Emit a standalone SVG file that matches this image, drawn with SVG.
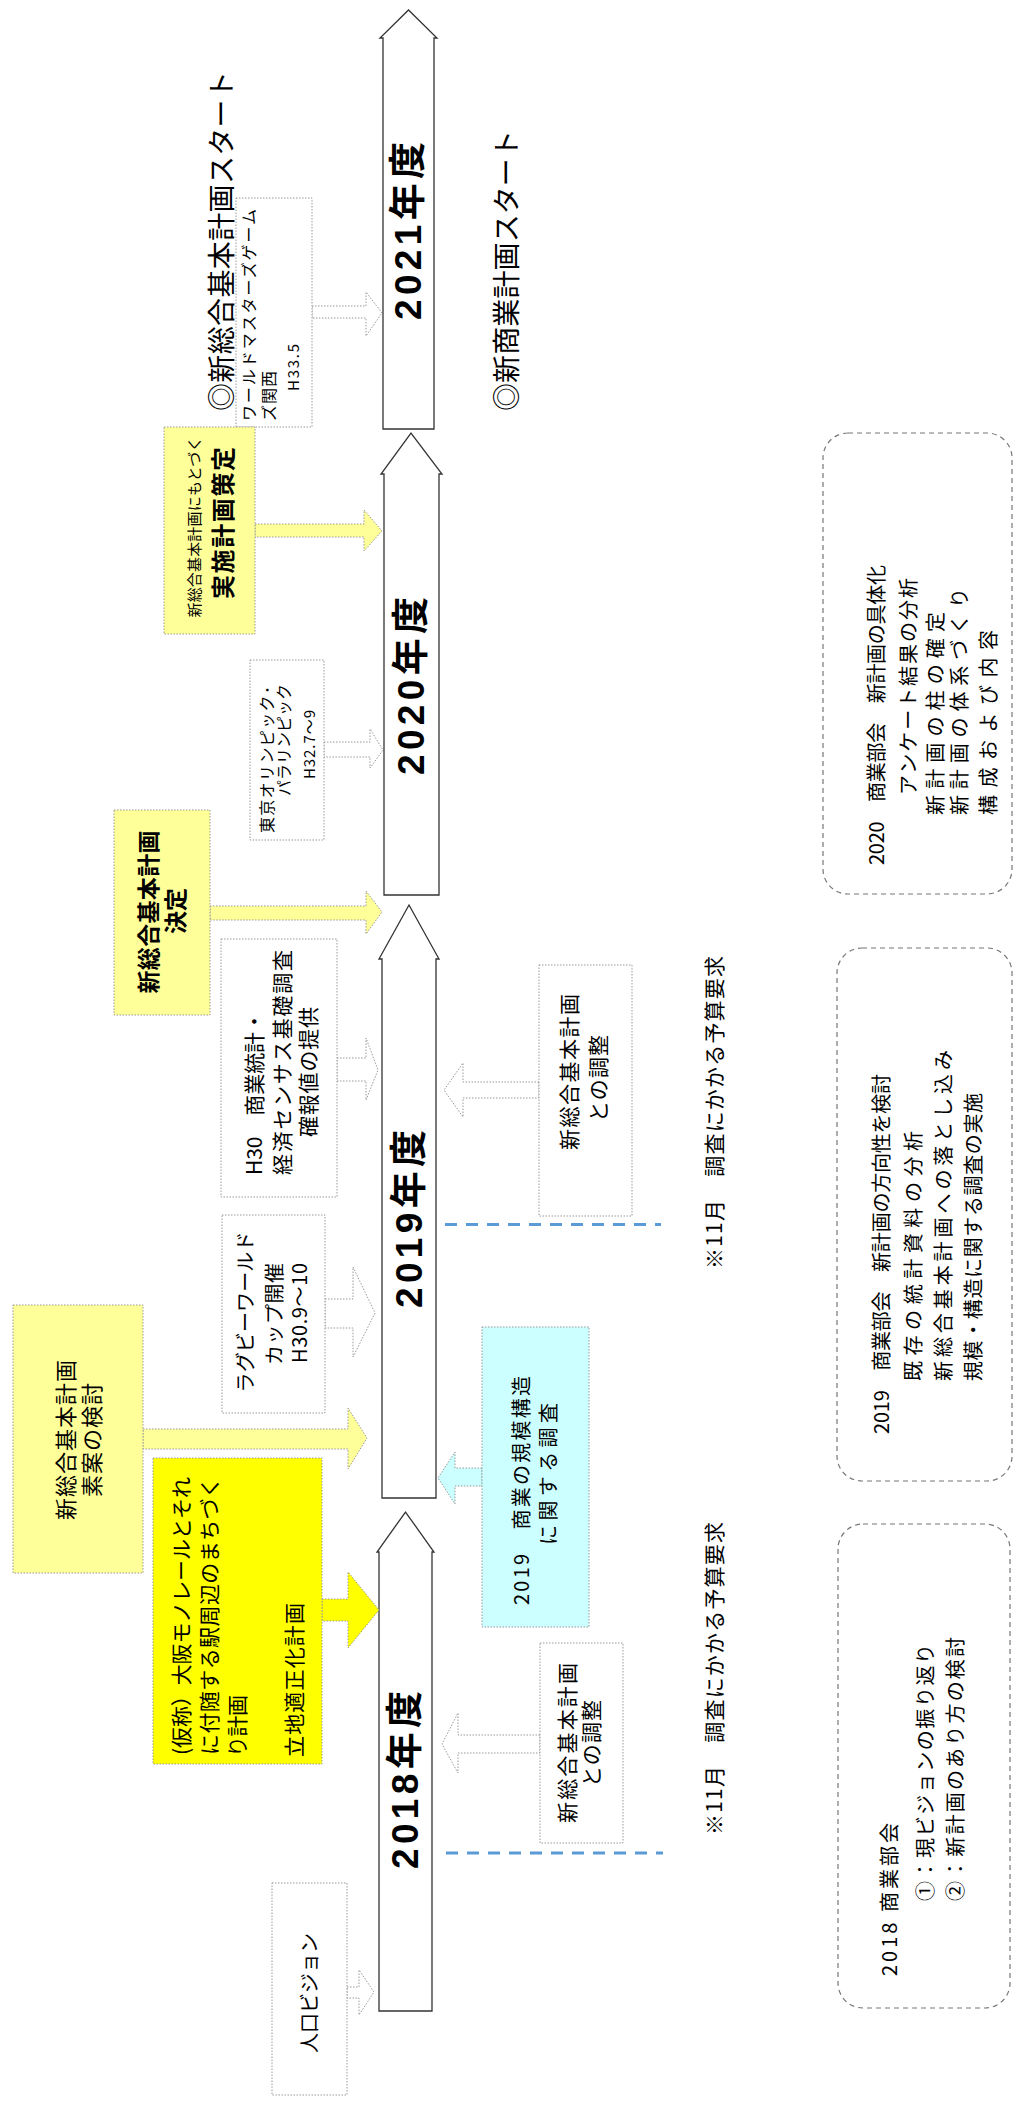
<svg xmlns="http://www.w3.org/2000/svg" width="1014" height="2103" viewBox="0 0 1014 2103">
<style>
text{font-family:"Noto Sans CJK JP","Noto Sans",sans-serif;fill:#000;dominant-baseline:central}
.yrt{font-family:"Liberation Sans","Noto Sans CJK JP",sans-serif;font-weight:bold;font-size:37px}
.box{fill:#fff;stroke:#999;stroke-width:1;stroke-dasharray:1.5 1.5}
.py{fill:#FFFF99}
.by{fill:#FFFF00}
.cy{fill:#CCFFFF}
.yr{fill:#fff;stroke:#333;stroke-width:1.3}
.rb{fill:#fff;stroke:#777;stroke-width:1.2;stroke-dasharray:5 4}
.bl{fill:none;stroke:#5B9BD5;stroke-width:3;stroke-dasharray:12 9}
.ar{stroke:#999;stroke-width:1;stroke-dasharray:1.5 1.5}
.wa{fill:#fff}
.rt{font-size:20px}
</style>
<rect width="1014" height="2103" fill="#fff"/>

<g id="year-2021">
<path class="yr" d="M383,429 V38 H380 L408.5,10 L437,38 H434 V429 Z"/>
<text class="yrt" transform="rotate(-90)" x="-231" y="408.5" text-anchor="middle" textLength="178">2021年度</text>
</g>
<g id="year-2020">
<path class="yr" d="M384,895 V474 H381 L411,433 L442,474 H439 V895 Z"/>
<text class="yrt" transform="rotate(-90)" x="-686" y="411.5" text-anchor="middle" textLength="178">2020年度</text>
</g>
<g id="year-2019">
<path class="yr" d="M382,1498 V959 H379 L409,905 L439,959 H436 V1498 Z"/>
<text class="yrt" transform="rotate(-90)" x="-1219" y="409" text-anchor="middle" textLength="178">2019年度</text>
</g>
<g id="year-2018">
<path class="yr" d="M379,2011 V1552 H377 L405.5,1512 L434,1552 H432 V2011 Z"/>
<text class="yrt" transform="rotate(-90)" x="-1780" y="405.5" text-anchor="middle" textLength="178">2018年度</text>
</g>

<g id="connectors">
<path class="ar wa" d="M347,1987 H359 V1970 L374,1992 L359,2015 V1998 H347 Z"/>
<path class="ar by" d="M322,1599 H348 V1572 L379,1610 L348,1648 V1621 H322 Z"/>
<path class="ar py" d="M143,1429 H348 V1408 L367,1438 L348,1469 V1449 H143 Z"/>
<path class="ar wa" d="M325,1299 H353 V1267 L375,1313 L353,1357 V1328 H325 Z"/>
<path class="ar wa" d="M337,1058 H366 V1038 L378,1070 L366,1100 V1081 H337 Z"/>
<path class="ar py" d="M210,906 H366 V891 L382,912 L366,934 V920 H210 Z"/>
<path class="ar wa" d="M324,742 H370 V729 L383,750 L370,768 V757 H324 Z"/>
<path class="ar py" d="M255,524 H364 V510 L382,531 L364,551 V537 H255 Z"/>
<path class="ar wa" d="M312,306 H366 V292 L382,313 L366,336 V318 H312 Z"/>
<path class="ar wa" d="M540,1735 H458 V1713 L442,1744 L458,1773 V1753 H540 Z"/>
<path class="ar cy" d="M482,1468 H455 V1452 L438,1478 L455,1504 V1486 H482 Z"/>
<path class="ar wa" d="M539,1082 H463 V1063 L444,1090 L463,1117 V1098 H539 Z"/>
<path class="bl" d="M445,1224.5 H661"/>
<path class="bl" d="M446,1853 H663"/>
</g>

<g id="start-sogo">
<text transform="rotate(-90)" x="-411" y="220" font-size="28" textLength="340">◎新総合基本計画スタート</text>
</g>
<g id="start-shogyo">
<text transform="rotate(-90)" x="-411" y="505" font-size="28" textLength="281">◎新商業計画スタート</text>
</g>

<g id="world-masters">
<rect class="box" x="236" y="198" width="76" height="229"/>
<text transform="rotate(-90)" x="-421" y="248" font-size="16" textLength="212">ワールドマスターズゲーム</text>
<text transform="rotate(-90)" x="-421" y="268" font-size="16" textLength="50">ズ関西</text>
<text transform="rotate(-90)" x="-391" y="292" font-size="15" textLength="47">H33.5</text>
</g>

<g id="jisshi">
<rect class="box py" x="164" y="427" width="91" height="207"/>
<text transform="rotate(-90)" x="-527" y="193" font-size="15" text-anchor="middle" textLength="181">新総合基本計画にもとづく</text>
<text transform="rotate(-90)" x="-523" y="221" font-size="24" font-weight="bold" text-anchor="middle" textLength="152">実施計画策定</text>
</g>

<g id="tokyo">
<rect class="box" x="250" y="660" width="74" height="180"/>
<text transform="rotate(-90)" x="-833" y="266" font-size="16" textLength="147">東京オリンピック･</text>
<text transform="rotate(-90)" x="-796" y="283" font-size="16" textLength="112">パラリンピック</text>
<text transform="rotate(-90)" x="-779" y="308" font-size="15" textLength="69">H32.7～9</text>
</g>

<g id="kettei">
<rect class="box py" x="114" y="810" width="96" height="205"/>
<text transform="rotate(-90)" x="-912" y="147" font-size="23" font-weight="bold" text-anchor="middle" textLength="163">新総合基本計画</text>
<text transform="rotate(-90)" x="-911" y="174" font-size="23" font-weight="bold" text-anchor="middle" textLength="46">決定</text>
</g>

<g id="h30">
<rect class="box" x="221" y="939" width="116" height="258"/>
<text transform="rotate(-90)" x="-1175" y="253" font-size="21" textLength="164">H30　商業統計・</text>
<text transform="rotate(-90)" x="-1175" y="281" font-size="21" textLength="225">経済センサス基礎調査</text>
<text transform="rotate(-90)" x="-1137" y="307" font-size="21" textLength="130">確報値の提供</text>
</g>

<g id="chosei-2019">
<rect class="box" x="539" y="965" width="93" height="251"/>
<text transform="rotate(-90)" x="-1150" y="568" font-size="21" textLength="156">新総合基本計画</text>
<text transform="rotate(-90)" x="-1122" y="597" font-size="21" textLength="87">との調整</text>
</g>

<g id="rugby">
<rect class="box" x="222" y="1215" width="103" height="198"/>
<text transform="rotate(-90)" x="-1312" y="244" font-size="20" text-anchor="middle" textLength="161">ラグビーワールド</text>
<text transform="rotate(-90)" x="-1314" y="273" font-size="20" text-anchor="middle" textLength="102">カップ開催</text>
<text transform="rotate(-90)" x="-1313" y="298" font-size="20" text-anchor="middle" textLength="100">H30.9～10</text>
</g>

<g id="soan">
<rect class="box py" x="13" y="1305" width="130" height="268"/>
<text transform="rotate(-90)" x="-1440" y="64" font-size="22" text-anchor="middle" textLength="160">新総合基本計画</text>
<text transform="rotate(-90)" x="-1440" y="90" font-size="22" text-anchor="middle" textLength="114">素案の検討</text>
</g>

<g id="chosa-2019">
<rect class="box cy" x="482" y="1327" width="107" height="300"/>
<text transform="rotate(-90)" x="-1605" y="520" font-size="20" textLength="229">2019　商業の規模構造</text>
<text transform="rotate(-90)" x="-1545" y="547" font-size="20" textLength="142">に関する調査</text>
</g>

<g id="monorail">
<rect class="box by" x="153" y="1458" width="169" height="306"/>
<text transform="rotate(-90)" x="-1755" y="180" font-size="21" textLength="278">(仮称）大阪モノレールとそれ</text>
<text transform="rotate(-90)" x="-1755" y="208" font-size="21" textLength="278">に付随する駅周辺のまちづく</text>
<text transform="rotate(-90)" x="-1757" y="236" font-size="21" textLength="62">り計画</text>
<text transform="rotate(-90)" x="-1757" y="293" font-size="21" textLength="154">立地適正化計画</text>
</g>

<g id="chosei-2018">
<rect class="box" x="540" y="1643" width="83" height="200"/>
<text transform="rotate(-90)" x="-1823" y="566" font-size="21" textLength="160">新総合基本計画</text>
<text transform="rotate(-90)" x="-1787" y="590" font-size="21" textLength="87">との調整</text>
</g>

<g id="jinko">
<rect class="box" x="272" y="1883" width="75" height="212"/>
<text transform="rotate(-90)" x="-1993" y="308" font-size="20" text-anchor="middle" textLength="120">人口ビジョン</text>
</g>

<g id="note-upper">
<text transform="rotate(-90)" x="-1269" y="713" font-size="21" textLength="313">※11月　調査にかかる予算要求</text>
</g>
<g id="note-lower">
<text transform="rotate(-90)" x="-1835" y="713" font-size="21" textLength="313">※11月　調査にかかる予算要求</text>
</g>

<g id="bukai-2020">
<rect class="rb" x="823" y="433" width="189" height="461" rx="25" ry="25"/>
<text class="rt" transform="rotate(-90)" x="-865" y="875" textLength="300">2020　商業部会　新計画の具体化</text>
<text class="rt" transform="rotate(-90)" x="-795" y="907" textLength="217">アンケート結果の分析</text>
<text class="rt" transform="rotate(-90)" x="-815" y="934" textLength="203">新計画の柱の確定</text>
<text class="rt" transform="rotate(-90)" x="-815" y="958" textLength="227">新計画の体系づくり</text>
<text class="rt" transform="rotate(-90)" x="-815" y="987" textLength="185">構成および内容</text>
</g>

<g id="bukai-2019">
<rect class="rb" x="837" y="948" width="175" height="533" rx="25" ry="25"/>
<text class="rt" transform="rotate(-90)" x="-1434" y="880" textLength="360">2019　商業部会　新計画の方向性を検討</text>
<text class="rt" transform="rotate(-90)" x="-1381" y="912" textLength="250">既存の統計資料の分析</text>
<text class="rt" transform="rotate(-90)" x="-1381" y="942" textLength="331">新総合基本計画への落とし込み</text>
<text class="rt" transform="rotate(-90)" x="-1381" y="972" textLength="288">規模・構造に関する調査の実施</text>
</g>

<g id="bukai-2018">
<rect class="rb" x="838" y="1524" width="172" height="484" rx="25" ry="25"/>
<text class="rt" transform="rotate(-90)" x="-1976" y="888" textLength="153">2018 商業部会</text>
<text class="rt" transform="rotate(-90)" x="-1901" y="924" textLength="257">①：現ビジョンの振り返り</text>
<text class="rt" transform="rotate(-90)" x="-1901" y="954" textLength="264">②：新計画のあり方の検討</text>
</g>
</svg>
